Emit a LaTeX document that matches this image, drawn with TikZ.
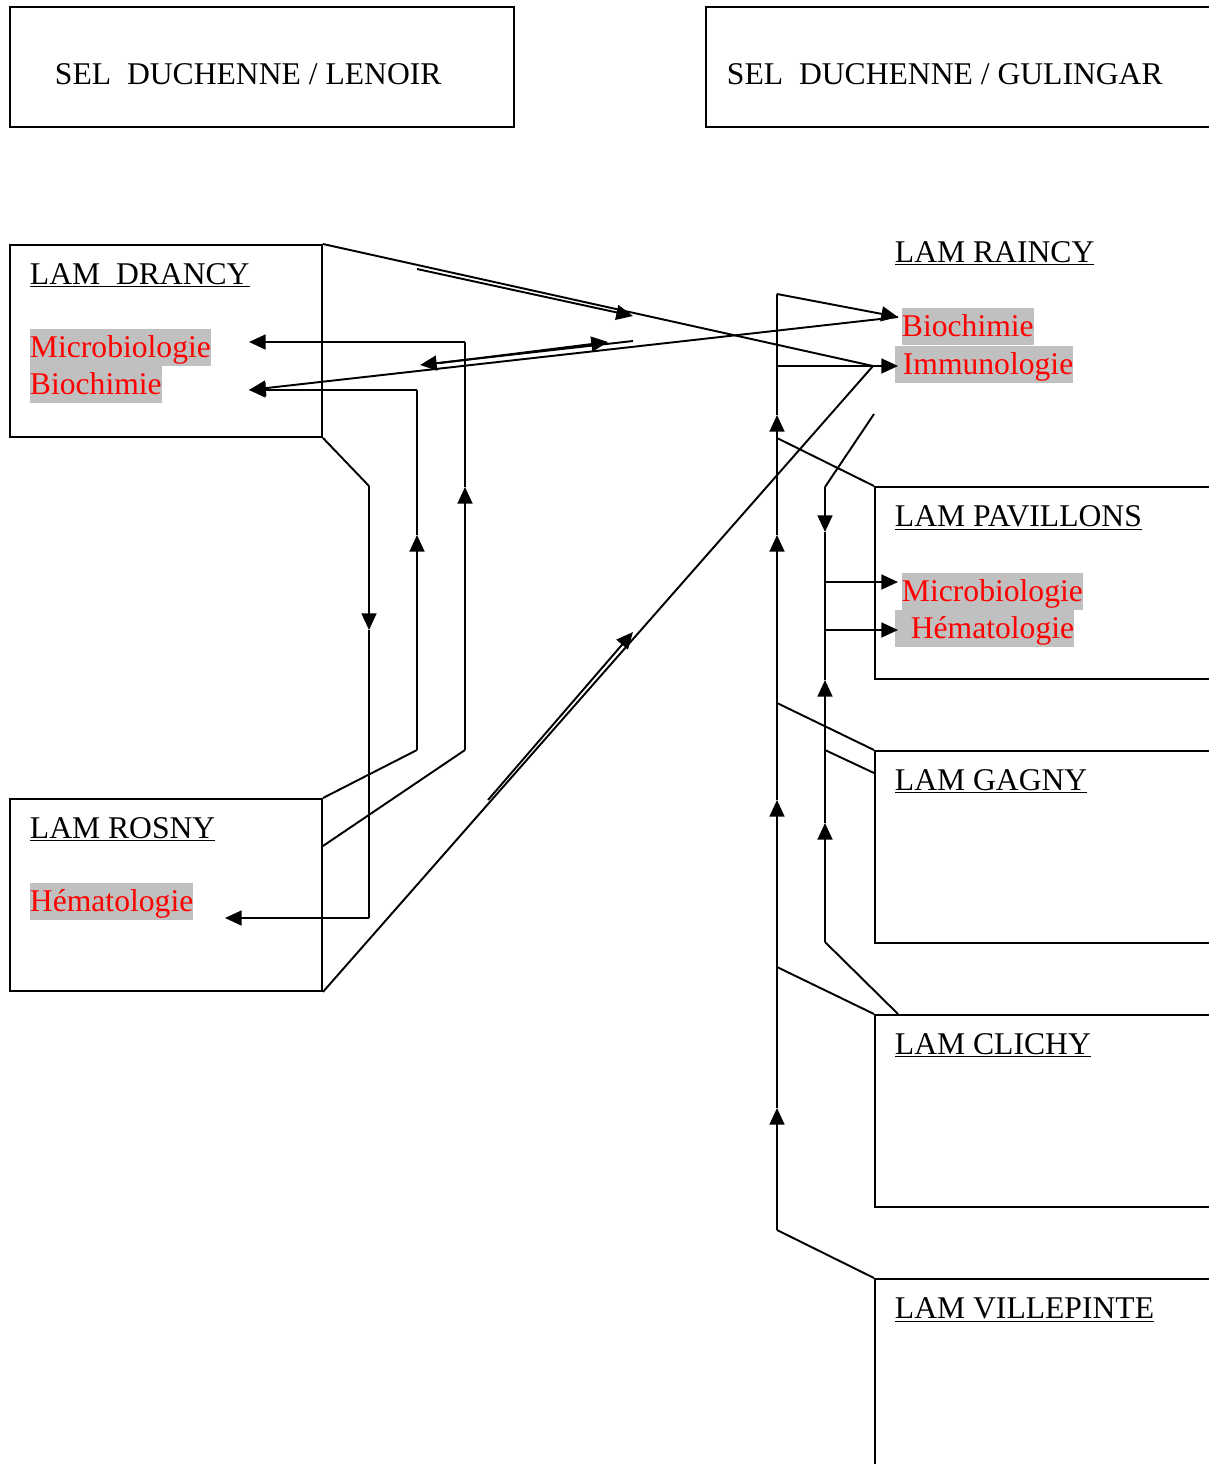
\documentclass[tikz,border=0pt]{standalone}
\usepackage{fontspec}
\setmainfont{Liberation Serif}
\usepackage{tikz}
\usetikzlibrary{arrows.meta,positioning}
\newlength\pu
\setlength\pu{0.02cm}
\definecolor{hlgray}{RGB}{192,192,192}

\begin{document}
\begin{tikzpicture}[x=1\pu, y=-1\pu, line width=1.1pt,
  every node/.style={font=\fontsize{18}{21}\selectfont},
  box/.style={draw, rectangle, inner sep=0pt, anchor=north west, minimum width=312\pu, minimum height=192\pu},
  ttl/.style={anchor=base west, inner sep=0pt},
  hl/.style={anchor=north west, fill=hlgray, text=red, inner sep=0pt, text height=16pt, text depth=5pt},
  arr/.style={-{Triangle[length=9.5pt,width=8.5pt]}}]
  \useasboundingbox (0,0) rectangle (1208,1464);

  % en-tetes
  \node[box, minimum width=504\pu, minimum height=120\pu] (sel1) at (9,6) {};
  \node[box, minimum width=530\pu, minimum height=120\pu] (sel2) at (705,6) {};
  \node[ttl] (sel1t) at (54,84) {SEL~~DUCHENNE / LENOIR};
  \node[ttl] (sel2t) at (726,84) {SEL~~DUCHENNE / GULINGAR};

  % laboratoires
  \node[box] (drancy) at (9,244) {};
  \node[box] (rosny) at (9,798) {};
  \node[box, minimum width=360\pu] (pav) at (874,486) {};
  \node[box, minimum width=360\pu] (gagny) at (874,750) {};
  \node[box, minimum width=360\pu] (clichy) at (874,1014) {};
  \node[box, minimum width=360\pu, minimum height=220\pu] (villepinte) at (874,1278) {};

  \node[ttl] (drancyt) at (29,284) {\underline{LAM~~DRANCY}};
  \node[ttl] (rosnyt) at (29,838) {\underline{LAM ROSNY}};
  \node[ttl] (raincyt) at (894,262) {\underline{LAM RAINCY}};
  \node[ttl] (pavt) at (894,526) {\underline{LAM PAVILLONS}};
  \node[ttl] (gagnyt) at (894,790) {\underline{LAM GAGNY}};
  \node[ttl] (clichyt) at (894,1054) {\underline{LAM CLICHY}};
  \node[ttl] (villepintet) at (894,1318) {\underline{LAM VILLEPINTE}};

  % disciplines
  \node[hl] (micD) at (29,328) {Microbiologie};
  \node[hl] (bioD) at (29,365) {Biochimie};
  \node[hl] (hemR) at (29,882) {Hématologie};
  \node[hl] (bioR) at (901,307) {Biochimie};
  \node[hl] (immR) at (894,345) {\hspace*{4.5pt}Immunologie};
  \node[hl] (micP) at (901,572) {Microbiologie};
  \node[hl] (hemP) at (894,609) {\hspace*{9pt}Hématologie};

  % points de passage
  \coordinate (jImm) at (873,366);
  \coordinate (tipImm) at (898,366);
  \coordinate (tipBioR) at (898,317);
  \coordinate (tipMicD) at (249,342);
  \coordinate (tipBioD) at (249,390);
  \coordinate (tipHemR) at (225,918);
  \coordinate (tipMicP) at (898,582);
  \coordinate (tipHemP) at (898,630);

  \coordinate (t0) at (777,294);
  \coordinate (t1) at (777,366);
  \coordinate (t2) at (777,415);
  \coordinate (t3) at (777,438);
  \coordinate (t4) at (777,535);
  \coordinate (t5) at (777,703);
  \coordinate (t6) at (777,800);
  \coordinate (t7) at (777,967);
  \coordinate (t8) at (777,1108);
  \coordinate (t9) at (777,1230);

  \coordinate (s0) at (874,414);
  \coordinate (s1) at (825,487);
  \coordinate (s2) at (825,532);
  \coordinate (s3) at (825,582);
  \coordinate (s4) at (825,630);
  \coordinate (s5) at (825,680);
  \coordinate (s6) at (825,750);
  \coordinate (s7) at (825,823);
  \coordinate (s8) at (825,942);

  \coordinate (l0) at (369,486);
  \coordinate (l1) at (369,630);
  \coordinate (l2) at (369,918);
  \coordinate (m0) at (417,750);
  \coordinate (m1) at (417,535);
  \coordinate (m2) at (417,390);
  \coordinate (n0) at (465,750);
  \coordinate (n1) at (465,487);
  \coordinate (n2) at (465,342);

  \coordinate (q1) at (417,269);
  \coordinate (q2) at (633,316);
  \coordinate (p1) at (633,341);
  \coordinate (p2) at (420,365);
  \coordinate (p3) at (440,363);
  \coordinate (p4) at (608,342);
  \coordinate (r1) at (488,800);
  \coordinate (r2) at (633,632);

  % Drancy, Rosny -> Raincy
  \draw (drancy.north east) -- (jImm);
  \draw (rosny.south east) -- (jImm);
  \draw[arr] (jImm) -- (tipImm);
  \draw[arr] (q1) -- (q2);
  \draw[arr] (r1) -- (r2);

  % Raincy -> Drancy
  \draw[arr] (tipBioR) -- (tipBioD);
  \draw[arr] (p1) -- (p2);
  \draw[arr] (p3) -- (p4);

  % Drancy <-> Rosny
  \draw (drancy.south east) -- (l0);
  \draw[arr] (l0) -- (l1);
  \draw (l1) -- (l2);
  \draw[arr] (l2) -- (tipHemR);
  \draw (rosny.north east) -- (m0);
  \draw[arr] (m0) -- (m1);
  \draw (m1) -- (m2);
  \draw[arr] (m2) -- (tipBioD);
  \draw ([yshift=-48\pu]rosny.north east) -- (n0);
  \draw[arr] (n0) -- (n1);
  \draw (n1) -- (n2);
  \draw[arr] (n2) -- (tipMicD);

  % tronc vers Raincy
  \draw (villepinte.north west) -- (t9);
  \draw[arr] (t9) -- (t8);
  \draw[arr] (t8) -- (t6);
  \draw[arr] (t6) -- (t4);
  \draw[arr] (t4) -- (t2);
  \draw (t2) -- (t0);
  \draw[arr] (t0) -- (tipBioR);
  \draw (t1) -- (jImm);
  \draw (pav.north west) -- (t3);
  \draw (gagny.north west) -- (t5);
  \draw (clichy.north west) -- (t7);

  % vers Pavillons
  \draw (s0) -- (s1);
  \draw[arr] (s1) -- (s2);
  \draw (s2) -- (s4);
  \draw[arr] (s3) -- (tipMicP);
  \draw[arr] (s4) -- (tipHemP);
  \draw ([xshift=24\pu]clichy.north west) -- (s8);
  \draw[arr] (s8) -- (s7);
  \draw[arr] (s7) -- (s5);
  \draw (s5) -- (s4);
  \draw ([yshift=-23\pu]gagny.north west) -- (s6);
\end{tikzpicture}
\end{document}
